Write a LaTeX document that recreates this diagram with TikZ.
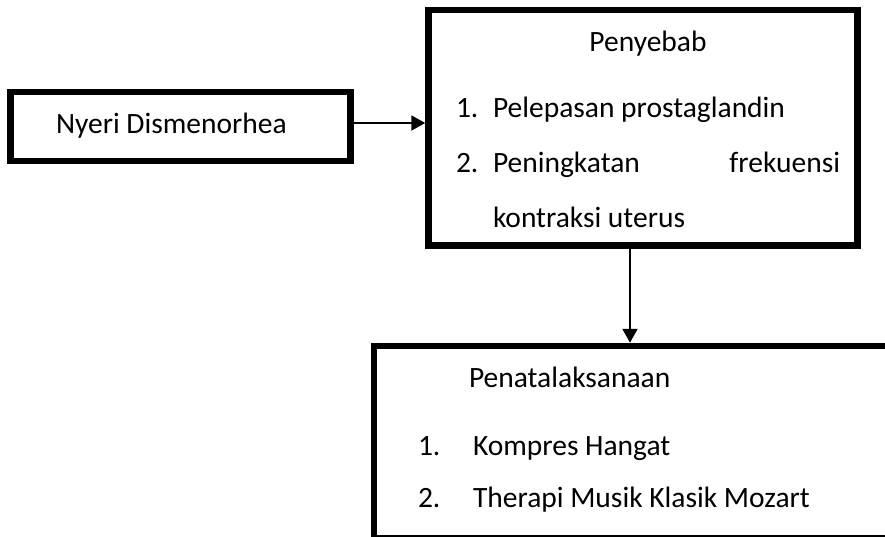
\documentclass[tikz,border=0pt]{standalone}
\usepackage{fontspec}
\setmainfont{Carlito}
\usetikzlibrary{arrows.meta}

\begin{document}
\begin{tikzpicture}[x=1pt,y=-1pt,>={Triangle[length=14pt,width=15pt]},
                line width=2pt,
                box/.style={draw,line width=6.5pt,inner sep=0pt},
                txt/.style={anchor=base west,inner sep=0pt,font=\fontsize{29.5}{35}\selectfont}]

  \useasboundingbox (0,0) rectangle (885,536);
  \clip (0,0) rectangle (885,536);

  \node[box,minimum width=340pt,minimum height=69pt] (nyeri) at (180.5,126.5) {};
  \node[box,minimum width=429pt,minimum height=235.5pt] (sebab) at (643,127.75) {};
  \node[box,minimum width=590pt,minimum height=192pt] (tata) at (669,442) {};

  \node[txt] (nyeritext) at (55,133) {Nyeri Dismenorhea};

  \node[txt,anchor=base] (sebabjudul) at (648,51) {Penyebab};
  \node[txt] (no1) at (455,117) {1.};
  \node[txt] (sebab1) at (492,117) {Pelepasan prostaglandin};
  \node[txt] (no2) at (455,172) {2.};
  \node[txt] (sebab2) at (492,172) {Peningkatan};
  \node[txt,anchor=base east] (sebab2b) at (841,172) {frekuensi};
  \node[txt] (sebab3) at (492,227) {kontraksi uterus};

  \node[txt] (tatajudul) at (468,387) {Penatalaksanaan};
  \node[txt] (no3) at (417,455) {1.};
  \node[txt] (tata1) at (472,455) {Kompres Hangat};
  \node[txt] (no4) at (417,507) {2.};
  \node[txt] (tata2) at (472,507) {Therapi Musik Klasik Mozart};

  \draw[->] ([yshift=3.5pt]nyeri.east) -- ([yshift=3.5pt]nyeri.east -| sebab.west);
  \draw[->] ([xshift=-13pt]sebab.south) -- ([xshift=-13pt]sebab.south |- tata.north);
\end{tikzpicture}
\end{document}
